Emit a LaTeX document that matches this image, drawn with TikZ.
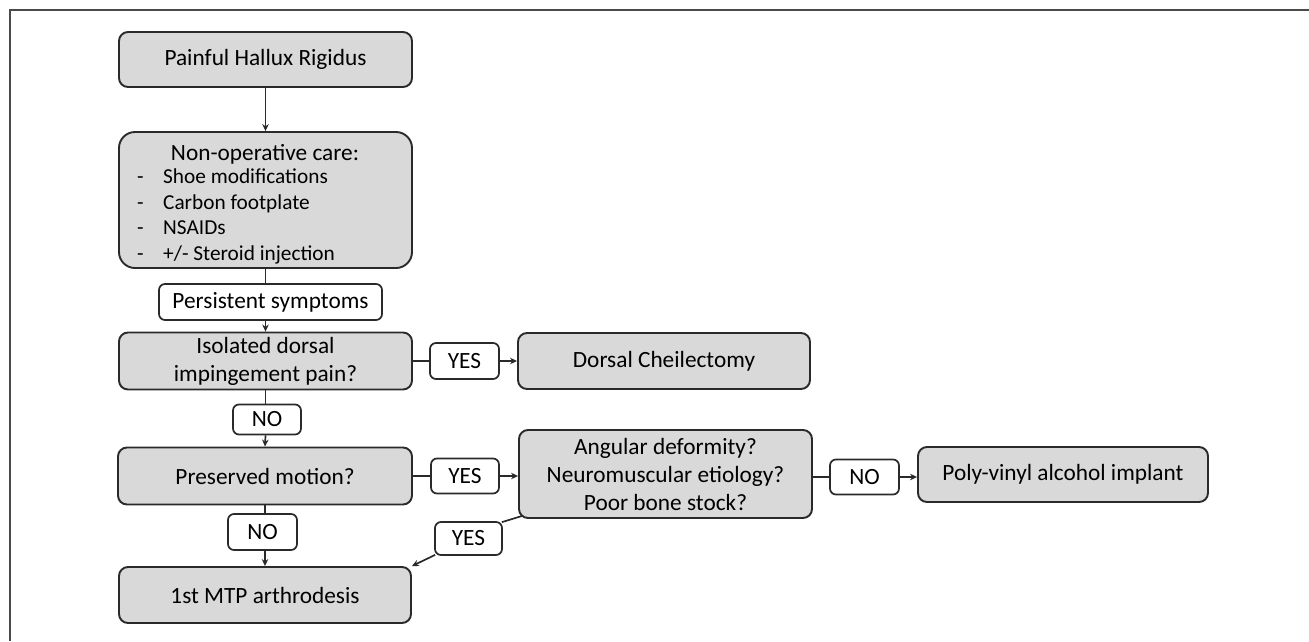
\documentclass[tikz,border=0pt]{standalone}
\usepackage{fontspec}
\setmainfont{Carlito}
\usetikzlibrary{arrows.meta}
\definecolor{boxgray}{HTML}{D9D9D9}
\definecolor{edgecol}{HTML}{2A2A2A}
\begin{document}
\begin{tikzpicture}[x=1pt,y=-1pt,
  txt/.style={font=\fontsize{23.3}{28}\selectfont},
  gbox/.style={txt, draw=edgecol, line width=1.9pt, fill=boxgray, rounded corners=9pt, inner sep=0pt, align=center},
  lbox/.style={txt, draw=edgecol, line width=1.7pt, fill=white, rounded corners=6pt, inner sep=0pt, align=center},
  item/.style={font=\fontsize{21.3}{25.7}\selectfont, inner sep=0pt, anchor=base west},
  conn/.style={draw=edgecol, line width=1.7pt},
  arr/.style={conn, -{Stealth[length=7pt,width=6.5pt]}},
  framel/.style={draw=edgecol!85, line width=1.8pt}
]
\useasboundingbox (0,0) rectangle (1309,641);
% frame
\coordinate (fTL) at (10,10);
\coordinate (fTR) at (1309,10);
\coordinate (fBL) at (10,641);
\draw[framel] (fTR) -- (fTL) -- (fBL);

% main column
\node[gbox, minimum width=293pt, minimum height=55pt] (painful) at (265.5,59.5) {Painful Hallux Rigidus};
\node[gbox, rounded corners=16pt, minimum width=293pt, minimum height=136pt] (nonop) at (265.5,200) {};
\node[txt, inner sep=0pt] (nonoptitle) at (265,154) {Non-operative care:};
\node[item] (i1) at (137,183.5) {\makebox[26pt][l]{-}Shoe modifications};
\node[item] (i2) at (137,209.2) {\makebox[26pt][l]{-}Carbon footplate};
\node[item] (i3) at (137,234.9) {\makebox[26pt][l]{-}NSAIDs};
\node[item] (i4) at (137,260.6) {\makebox[26pt][l]{-}+/- Steroid injection};
\node[lbox, minimum width=223pt, minimum height=36pt] (persist) at (270.5,302) {Persistent symptoms};
\node[gbox, minimum width=293pt, minimum height=57pt] (isolated) at (265.5,361) {Isolated dorsal\\impingement pain?};
\node[lbox, minimum width=68pt, minimum height=30pt] (no1) at (267,419.5) {NO};
\node[gbox, minimum width=294pt, minimum height=57pt] (preserved) at (265,476) {Preserved motion?};
\node[lbox, minimum width=69pt, minimum height=36pt] (no2) at (262.5,532) {NO};
\node[gbox, minimum width=292pt, minimum height=56pt] (mtp) at (265,595) {1st MTP arthrodesis};

% right branches
\node[lbox, minimum width=69pt, minimum height=36pt] (yes1) at (464.5,361) {YES};
\node[gbox, minimum width=292pt, minimum height=56pt] (dorsal) at (664,361) {Dorsal Cheilectomy};
\node[lbox, minimum width=68pt, minimum height=35pt] (yes2) at (465,476) {YES};
\node[gbox, minimum width=293pt, minimum height=88pt] (angular) at (665.5,474) {Angular deformity?\\Neuromuscular etiology?\\Poor bone stock?};
\node[lbox, minimum width=69pt, minimum height=35pt] (no3) at (864.5,477) {NO};
\node[gbox, minimum width=290pt, minimum height=55pt] (poly) at (1063,474.5) {Poly-vinyl alcohol implant};
\node[lbox, minimum width=67pt, minimum height=33pt] (yes3) at (468.5,538.5) {YES};

% connectors
\draw[arr] (painful.south) -- (nonop.north);
\draw[conn] (nonop.south) -- (nonop.south |- persist.north);
\draw[arr] (nonop.south |- persist.south) -- (isolated.north);
\draw[conn] (isolated.east) -- (yes1.west);
\draw[arr] (yes1.east) -- (dorsal.west);
\draw[conn] (isolated.south) -- (isolated.south |- no1.north);
\draw[arr] (isolated.south |- no1.south) -- (preserved.north);
\draw[conn] (preserved.east) -- (yes2.west);
\draw[arr] (yes2.east) -- (yes2.east -| angular.west);
\draw[conn] (preserved.south) -- (preserved.south |- no2.north);
\draw[arr] (preserved.south |- no2.south) -- (mtp.north);
\draw[conn] (angular.east |- no3.west) -- (no3.west);
\draw[arr] (no3.east) -- (no3.east -| poly.west);
\draw[conn] ([shift={(4pt,3pt)}]angular.south west) -- ([shift={(-1pt,-1pt)}]yes3.north east);
\draw[arr] ([shift={(1pt,1pt)}]yes3.south west) -- (mtp.north east);
\end{tikzpicture}
\end{document}
